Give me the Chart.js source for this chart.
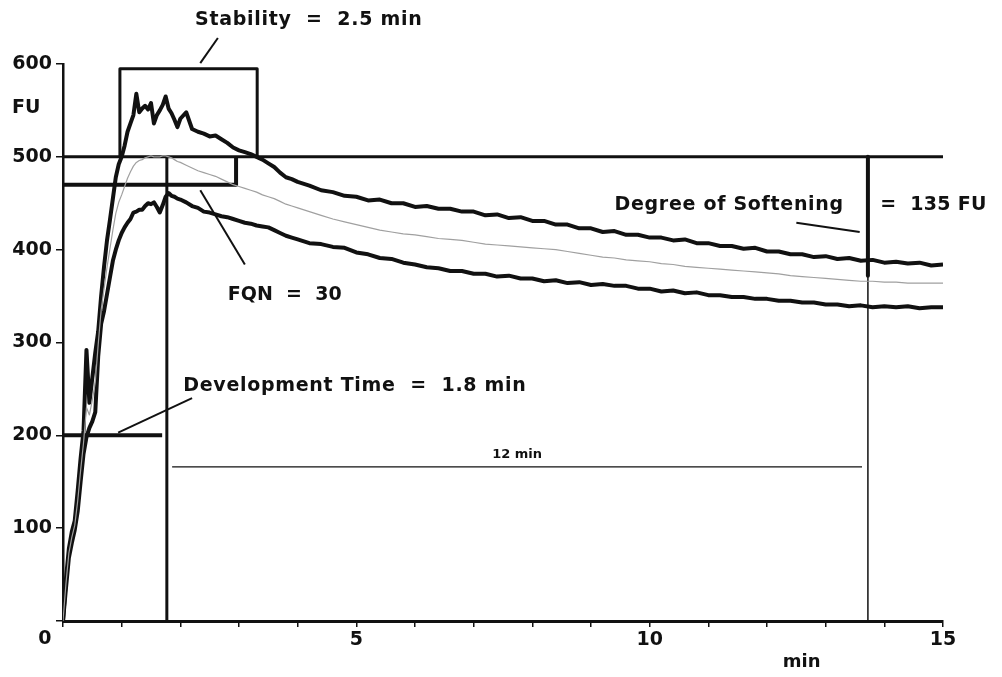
<!DOCTYPE html>
<html>
<head>
<meta charset="utf-8">
<title>Farinogram</title>
<script src="https://cdn.jsdelivr.net/npm/chart.js@4.4.1/dist/chart.umd.min.js"></script>
<style>
  html, body { margin: 0; padding: 0; background: #ffffff; }
  #wrap { width: 1002px; height: 677px; position: relative; }
</style>
</head>
<body>
<div id="wrap"><canvas id="farino"></canvas></div>
<script>
// time axis (min)
const minutes = [
  0, 0.05, 0.1, 0.15, 0.2, 0.25, 0.3, 0.35, 0.4, 0.45, 0.5, 0.55, 0.6, 0.65, 0.7, 0.75, 0.8, 0.85, 0.9, 0.95,
  1, 1.05, 1.1, 1.15, 1.2, 1.25, 1.3, 1.35, 1.4, 1.45, 1.5, 1.55, 1.6, 1.65, 1.7, 1.75, 1.8, 1.85, 1.9, 1.95, 2,
  2.1, 2.2, 2.3, 2.4, 2.5, 2.6, 2.7, 2.8, 2.9, 3, 3.1, 3.2, 3.3, 3.4, 3.5, 3.6, 3.7, 3.8, 3.9, 4,
  4.2, 4.4, 4.6, 4.8, 5, 5.2, 5.4, 5.6, 5.8, 6, 6.2, 6.4, 6.6, 6.8, 7, 7.2, 7.4, 7.6, 7.8, 8,
  8.2, 8.4, 8.6, 8.8, 9, 9.2, 9.4, 9.6, 9.8, 10, 10.2, 10.4, 10.6, 10.8, 11, 11.2, 11.4, 11.6, 11.8, 12,
  12.2, 12.4, 12.6, 12.8, 13, 13.2, 13.4, 13.6, 13.8, 14, 14.2, 14.4, 14.6, 14.8, 15
];

// upper band (FU)
const upperFU = [
  0, 45, 78, 96, 108, 140, 175, 205, 292, 235, 262, 289, 312, 350, 382, 410, 432, 455, 478, 492,
  500, 512, 527, 536, 545, 568, 548, 552, 555, 551, 558, 536, 545, 550, 556, 565, 552, 547, 540, 532, 541,
  548, 530, 527, 525, 522, 523, 519, 515, 510, 507, 505, 503, 500, 497, 493, 489, 483, 478, 476, 473,
  469, 464, 462, 458, 457, 453, 454, 450, 450, 446, 447, 444, 444, 441, 441, 437, 438, 434, 435, 431,
  431, 427, 427, 423, 423, 419, 420, 416, 416, 413, 413, 410, 411, 407, 407, 404, 404, 401, 402, 398,
  398, 395, 395, 392, 393, 390, 391, 388, 389, 386, 387, 385, 386, 383, 384
];

// mean curve (FU)
const meanFU = [
  0, 40, 73, 90, 103, 129, 162, 192, 230, 222, 238, 257, 298, 335, 358, 381, 401, 421, 439, 451,
  459, 468, 477, 484, 490, 494, 496, 497, 499, 500, 501, 500, 500, 500, 501, 501, 500, 499, 497, 495, 494,
  491, 488, 485, 483, 481, 479, 476, 473, 470, 468, 466, 464, 462, 459, 457, 455, 452, 449, 447, 445,
  441, 437, 433, 430, 427, 424, 421, 419, 417, 416, 414, 412, 411, 410, 408, 406, 405, 404, 403, 402,
  401, 400, 398, 396, 394, 392, 391, 389, 388, 387, 385, 384, 382, 381, 380, 379, 378, 377, 376, 375,
  374, 372, 371, 370, 369, 368, 367, 366, 366, 365, 365, 364, 364, 364, 364
];

// lower band (FU)
const lowerFU = [
  0, 35, 68, 84, 98, 118, 150, 180, 198, 208, 215, 225, 285, 320, 334, 352, 370, 388, 400, 410,
  418, 424, 429, 433, 440, 441, 443, 443, 447, 450, 449, 451, 446, 440, 448, 457, 461, 458, 457, 455, 454,
  451, 447, 445, 441, 440, 438, 436, 435, 433, 431, 429, 428, 426, 425, 424, 421, 418, 415, 413, 411,
  407, 406, 403, 402, 397, 395, 391, 390, 386, 384, 381, 380, 377, 377, 374, 374, 371, 372, 369, 369,
  366, 367, 364, 365, 362, 363, 361, 361, 358, 358, 355, 356, 353, 354, 351, 351, 349, 349, 347, 347,
  345, 345, 343, 343, 341, 341, 339, 340, 338, 339, 338, 339, 337, 338, 338
];

const xLabelTicks = [5, 10, 15];
const yLabelTicks = [100, 200, 300, 400, 500, 600];

// evaluation lines (min, FU)
const guides = [
  { pts: [[0, 500], [15, 500]], w: 3 },
  { pts: [[0, 470], [2.95, 470], [2.95, 500]], w: 4 },
  { pts: [[0.97, 500], [0.97, 595], [3.31, 595], [3.31, 500]], w: 3 },
  { pts: [[1.77, 0], [1.77, 500]], w: 3 },
  { pts: [[0, 200], [1.69, 200]], w: 4 },
  { pts: [[13.72, 500], [13.72, 372]], w: 4 },
  { pts: [[13.72, 372], [13.72, 0]], w: 1.5 },
  { pts: [[1.86, 166], [13.62, 166]], w: 1.2 },
  { pts: [[2.34, 601], [2.64, 628]], w: 2 },
  { pts: [[2.34, 464], [3.1, 384]], w: 2 },
  { pts: [[0.94, 203], [2.2, 240]], w: 2 },
  { pts: [[12.5, 429], [13.58, 419]], w: 2 }
];

// text notes (min, FU)
const notes = [
  { text: 'Stability  =  2.5 min', t: 2.25, fu: 647 },
  { text: 'FQN  =  30', t: 2.81, fu: 351, spacing: '0px' },
  { text: 'Development Time  =  1.8 min', t: 2.05, fu: 253 },
  { text: 'Degree of Softening', t: 9.4, fu: 448 },
  { text: '=  135 FU', t: 13.93, fu: 448, spacing: '0.3px' },
  { text: '12 min', t: 7.74, fu: 179, size: 13, spacing: '0px', align: 'center' },
  { text: 'FU', t: -0.87, fu: 553, size: 19, spacing: '0px' },
  { text: 'min', t: 12.27, fu: -44, size: 18, spacing: '0px' },
  { text: '0', t: -0.31, fu: -19, size: 19, spacing: '0px', align: 'center' }
];

const INK = '#111111';
const FONT = '"DejaVu Sans", "Liberation Sans", Arial, sans-serif';

function toPoints(values) {
  return minutes.map((m, i) => ({ x: m, y: values[i] }));
}

const datasets = [
  { data: toPoints(meanFU), borderColor: '#a0a0a0', borderWidth: 1.2 },
  { data: toPoints(upperFU), borderColor: INK, borderWidth: 4 },
  { data: toPoints(lowerFU), borderColor: INK, borderWidth: 4 }
];
guides.forEach(g => {
  datasets.push({
    data: g.pts.map(p => ({ x: p[0], y: p[1] })),
    borderColor: INK,
    borderWidth: g.w,
    borderCapStyle: 'butt',
    clip: false
  });
});
datasets.forEach(d => {
  d.pointRadius = 0;
  d.tension = 0;
  d.fill = false;
  d.borderJoinStyle = 'round';
});

const notesPlugin = {
  id: 'notes',
  afterDatasetsDraw(chart) {
    const { ctx, scales: { x, y } } = chart;
    ctx.save();
    ctx.fillStyle = INK;
    ctx.textBaseline = 'middle';
    notes.forEach(n => {
      ctx.font = 'bold ' + (n.size || 19) + 'px ' + FONT;
      ctx.letterSpacing = n.spacing || '0.7px';
      ctx.textAlign = n.align || 'left';
      ctx.fillText(n.text, x.getPixelForValue(n.t), y.getPixelForValue(n.fu));
    });
    ctx.restore();
  }
};

new Chart(document.getElementById('farino'), {
  type: 'line',
  data: { datasets: datasets },
  options: {
    responsive: true,
    maintainAspectRatio: false,
    animation: false,
    events: [],
    layout: { padding: { left: 0, right: 59, top: 64, bottom: 0 } },
    plugins: {
      legend: { display: false },
      tooltip: { enabled: false }
    },
    scales: {
      x: {
        type: 'linear',
        min: 0,
        max: 15,
        afterFit: s => { s.height = 56; },
        border: { display: true, color: INK, width: 3 },
        grid: { drawOnChartArea: false, drawTicks: true, tickLength: 6, color: INK, lineWidth: 1.5 },
        ticks: {
          stepSize: 1,
          maxTicksLimit: 20,
          autoSkip: false,
          maxRotation: 0,
          padding: 2,
          color: INK,
          font: { family: FONT, size: 19, weight: 'bold' },
          callback: v => xLabelTicks.includes(v) ? String(v) : ''
        }
      },
      y: {
        type: 'linear',
        min: 0,
        max: 600,
        afterFit: s => { s.width = 63; },
        border: { display: true, color: INK, width: 2.5 },
        grid: { drawOnChartArea: false, drawTicks: true, tickLength: 7, color: INK, lineWidth: 1.5 },
        ticks: {
          stepSize: 100,
          padding: 4,
          color: INK,
          font: { family: FONT, size: 19, weight: 'bold' },
          callback: v => yLabelTicks.includes(v) ? String(v) : ''
        }
      }
    }
  },
  plugins: [notesPlugin]
});
</script>
</body>
</html>
